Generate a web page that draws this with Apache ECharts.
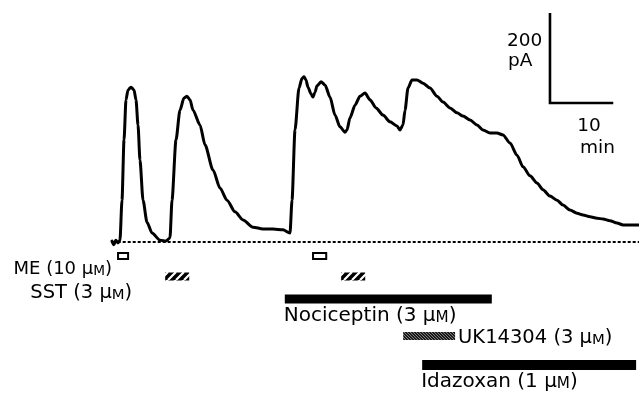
<!DOCTYPE html>
<html><head><meta charset="utf-8">
<script src="https://cdn.jsdelivr.net/npm/echarts@6/dist/echarts.min.js"></script>
<style>html,body{margin:0;padding:0;background:#fff}#c{width:639px;height:395px}</style>
</head><body><div id="c"></div>
<script>
// ---- DATA (time in minutes, membrane current in pA; 0 pA = holding baseline) ----
const traceTime = [0, 0.3, 0.6, 0.95, 1.26, 1.58, 1.90, 2.21, 2.53, 3.0,
  3.48, 3.79, 4.11, 4.42, 4.90, 5.53, 6.32, 7.58, 8.53, 9.16,
  9.48, 10.11, 10.74, 11.37, 11.85, 12.32, 12.80, 13.90, 14.69, 15.96,
  17.06, 18.17, 19.43, 20.70, 22.27, 23.85, 25.43, 27.01, 28.12, 28.44,
  28.91, 29.54, 30.02, 30.33, 30.65, 30.96, 31.44, 31.75, 32.07, 32.39,
  33.02, 33.65, 34.44, 35.23, 36.02, 36.81, 37.12, 37.60, 38.39, 39.18,
  39.97, 40.76, 41.71, 42.81, 43.92, 45.02, 45.50, 45.97, 46.29, 46.76,
  47.39, 48.18, 49.13, 50.24, 51.34, 52.29, 53.40, 54.50, 55.45, 56.56,
  57.66, 58.61, 59.72, 60.82, 61.77, 62.88, 63.98, 64.93, 66.03, 67.14,
  68.09, 69.19, 70.30, 71.25, 72.35, 73.46, 74.41, 75.51, 76.62, 77.57,
  78.67, 79.78, 80.73, 81.83, 83.25];
const traceCurrent = [2, -6, 4, -2, 4, 93, 227, 316, 338, 344,
  338, 316, 260, 182, 93, 44, 20, 4, 2, 9,
  93, 227, 293, 320, 324, 316, 293, 260, 216, 160,
  120, 93, 67, 49, 33, 29, 29, 27, 20, 93,
  249, 342, 364, 367, 360, 344, 329, 322, 333, 347,
  356, 349, 322, 282, 256, 244, 249, 276, 304, 324,
  331, 316, 298, 282, 267, 258, 249, 260, 293, 342,
  360, 360, 353, 342, 324, 311, 298, 287, 280, 271,
  260, 249, 242, 242, 238, 220, 193, 167, 147, 131,
  116, 102, 93, 82, 71, 64, 60, 56, 53, 51,
  47, 42, 38, 38, 38];
const baselineTime = [0.9, 83.25];
const baselineCurrent = [0, 0];

const drugNames = ['ME (10 μM)', 'SST (3 μM)', 'Nociceptin (3 μM)', 'UK14304 (3 μM)', 'Idazoxan (1 μM)'];
const appDrug  = [0, 0, 1, 1, 2, 3, 4];
const appStart = [0.8, 31.6, 8.4, 36.2, 27.3, 46.0, 49.0];
const appEnd   = [2.7, 34.0, 12.2, 40.0, 60.0, 54.2, 82.8];

const scaleBarCurrent = 200; // pA
const scaleBarTime = 10;     // min
const scaleBarLabels = ['200', 'pA', '10', 'min'];

// ---- LAYOUT / STYLE ----
const X_MIN = -17.693, X_MAX = 83.254, Y_MIN = -340, Y_MAX = 537.78;
const FONT = 'DejaVu Sans';
const scaleOrigin = [69.19, 308.9];

function hatch(size, bg, fg, lw, dir) {
  const c = document.createElement('canvas');
  c.width = c.height = size;
  const g = c.getContext('2d');
  g.fillStyle = bg; g.fillRect(0, 0, size, size);
  g.strokeStyle = fg; g.lineWidth = lw; g.beginPath();
  for (let k = -1; k <= 1; k++) {
    if (dir > 0) { g.moveTo(k * size, size); g.lineTo(k * size + size, 0); }
    else { g.moveTo(k * size, 0); g.lineTo(k * size + size, size); }
  }
  g.stroke();
  return c;
}
const sstFill = { image: hatch(8, '#000', '#fff', 2.2, 1), repeat: 'repeat' };
const ukFill = { image: hatch(3, '#1a1a1a', '#9a9a9a', 0.8, -1), repeat: 'repeat' };

const rowLayout = [
  { top: 252, h: 8, kind: 'open', lab: { ref: 'left', dx: -5, dy: 17, align: 'right', size: 18 } },
  { top: 272.5, h: 8, fill: sstFill, lab: { ref: 'left', dx: -33, dy: 20.5, align: 'right', size: 19.5 } },
  { top: 294.5, h: 9, fill: '#000', lab: { ref: 'left', dx: -1, dy: 21.5, align: 'left', size: 20 } },
  { top: 332, h: 8, fill: ukFill, lab: { ref: 'right', dx: 3, dy: 5.5, align: 'left', size: 19.5 } },
  { top: 360, h: 10, fill: '#000', lab: { ref: 'left', dx: -1, dy: 21.5, align: 'left', size: 20 } }
];

function richName(name) {
  return '{a|' + name.replace('μM)', 'μ}{b|M}{a|)}');
}
function richStyle(fs) {
  return {
    a: { fontSize: fs, fontFamily: FONT, fill: '#000', color: '#000', verticalAlign: 'bottom' },
    b: { fontSize: fs * 0.76, fontFamily: FONT, fill: '#000', color: '#000', verticalAlign: 'bottom' }
  };
}

const seen = {};
const firstOfDrug = appDrug.map(d => { if (seen[d]) return false; seen[d] = true; return true; });

const chart = echarts.init(document.getElementById('c'), null, { renderer: 'canvas' });
chart.setOption({
  backgroundColor: '#fff',
  animation: false,
  grid: { left: 0, right: 0, top: 0, bottom: 0 },
  xAxis: { type: 'value', min: X_MIN, max: X_MAX, show: false },
  yAxis: { type: 'value', min: Y_MIN, max: Y_MAX, show: false },
  series: [
    {
      type: 'line',
      data: baselineTime.map((t, i) => [t, baselineCurrent[i]]),
      showSymbol: false,
      lineStyle: { color: '#000', width: 1.8, type: [3, 2] },
      z: 1
    },
    {
      type: 'line',
      data: traceTime.map((t, i) => [t, traceCurrent[i]]),
      showSymbol: false,
      smooth: 0.25,
      smoothMonotone: 'x',
      lineStyle: { color: '#000', width: 3, join: 'round', cap: 'round' },
      z: 2
    },
    {
      type: 'custom',
      data: appStart.map((s, i) => [s, appEnd[i], appDrug[i]]),
      encode: { x: [0, 1] },
      renderItem: function (params, api) {
        const i = params.dataIndex;
        const x0 = api.coord([api.value(0), 0])[0];
        const x1 = api.coord([api.value(1), 0])[0];
        const d = api.value(2);
        const row = rowLayout[d];
        const children = [];
        if (row.kind === 'open') {
          children.push({ type: 'rect', shape: { x: x0 + 1, y: row.top + 1, width: x1 - x0 - 2, height: row.h - 2 },
            style: { fill: '#fff', stroke: '#000', lineWidth: 2 } });
        } else {
          children.push({ type: 'rect', shape: { x: x0, y: row.top, width: x1 - x0, height: row.h },
            style: { fill: row.fill } });
        }
        if (firstOfDrug[i]) {
          const L = row.lab;
          const bx = L.ref === 'left' ? x0 : x1;
          children.push({ type: 'text', style: {
            text: richName(drugNames[d]), rich: richStyle(L.size),
            x: bx + L.dx, y: row.top + L.dy, align: L.align, verticalAlign: 'middle'
          } });
        }
        return { type: 'group', children: children };
      },
      z: 3
    },
    {
      type: 'custom',
      data: [[scaleOrigin[0], scaleOrigin[1]]],
      encode: { x: 0, y: 1 },
      renderItem: function (params, api) {
        const o = api.coord([scaleOrigin[0], scaleOrigin[1]]);
        const top = api.coord([scaleOrigin[0], scaleOrigin[1] + scaleBarCurrent]);
        const right = api.coord([scaleOrigin[0] + scaleBarTime, scaleOrigin[1]]);
        const ts = { fontSize: 18.5, fontFamily: FONT, fill: '#000' };
        return { type: 'group', children: [
          { type: 'polyline', shape: { points: [top, o, right] }, style: { stroke: '#000', lineWidth: 2.6, fill: null } },
          { type: 'text', style: Object.assign({ text: scaleBarLabels[0], x: o[0] - 43, y: o[1] - 62, align: 'left', verticalAlign: 'middle' }, ts) },
          { type: 'text', style: Object.assign({ text: scaleBarLabels[1], x: o[0] - 42, y: o[1] - 42, align: 'left', verticalAlign: 'middle' }, ts) },
          { type: 'text', style: Object.assign({ text: scaleBarLabels[2], x: o[0] + 39, y: o[1] + 23.5, align: 'center', verticalAlign: 'middle' }, ts) },
          { type: 'text', style: Object.assign({ text: scaleBarLabels[3], x: o[0] + 47.5, y: o[1] + 45, align: 'center', verticalAlign: 'middle' }, ts) }
        ] };
      },
      z: 4
    }
  ]
});
</script></body></html>
